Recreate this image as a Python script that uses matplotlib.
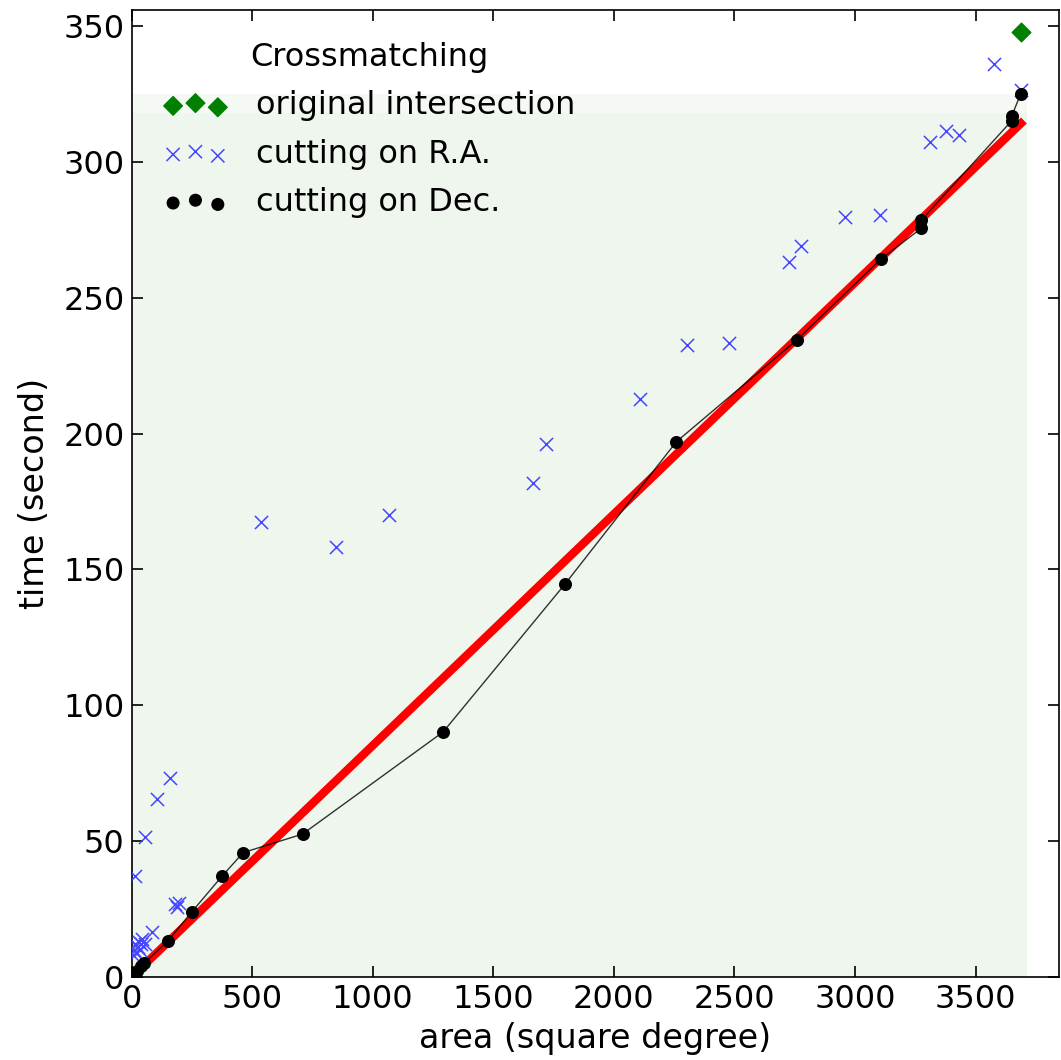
import numpy as np
import matplotlib
matplotlib.use("Agg")
import matplotlib.pyplot as plt

# ==== data ====
# original intersection
orig_area = [3686]
orig_time = [347.7]

# cutting on R.A.
ra_area = [5, 10, 15, 20, 25, 30, 35, 40, 45, 55, 14, 56, 84, 107, 160,
           180, 190, 198, 535, 846, 1067, 1663, 1720, 2107, 2303, 2477,
           2726, 2777, 2957, 3105, 3309, 3378, 3431, 3578, 3686]
ra_time = [8.0, 10.0, 12.0, 9.0, 11.0, 13.0, 10.0, 12.0, 14.0, 12.0, 37.2, 51.4, 16.7, 65.4, 73.1,
           26.9, 25.9, 27.3, 167.6, 158.4, 170.0, 181.8, 196.2, 212.8, 232.6, 233.5,
           263.3, 269.0, 279.7, 280.5, 307.4, 311.5, 309.9, 336.0, 326.5]

# cutting on Dec.
dec_area = [2, 10, 22, 38, 52, 152, 250, 374, 463, 709, 1292, 1797, 2259,
            2760, 3107, 3275, 3275, 3650, 3650, 3686]
dec_time = [0.5, 1.5, 2.2, 4.0, 5.0, 13.4, 24.0, 37.0, 45.8, 52.6, 90.2, 144.6, 197.0,
            234.6, 264.2, 275.6, 278.6, 315.2, 317.0, 324.9]

# linear fit (red)
fit_slope = 0.0852
fit_area = [0, 3700]

# light green background block
shade_x = 3711
shade_top = [325, 318]

# ==== plot ====
fig = plt.figure(figsize=(10.61, 10.60), dpi=100)
ax = fig.add_axes([0.124, 0.0783, 0.874, 0.9125])

ax.fill_between([0, shade_x], 0, shade_top[0], color="#f4f9f3", lw=0, zorder=0)
ax.fill_between([0, shade_x], 0, shade_top[1], color="#eff6ed", lw=0, zorder=0)

fx = np.array(fit_area)
ax.plot(fx, fit_slope * fx, color="red", lw=6, solid_capstyle="butt", zorder=2)

ax.plot(dec_area, dec_time, color="black", lw=1, alpha=0.8, zorder=3)
ax.scatter(dec_area, dec_time, s=70, color="black", marker="o", zorder=4,
           label="cutting on Dec.")
ax.scatter(ra_area, ra_time, s=90, color="#4646ff", marker="x", linewidths=1.1,
           zorder=3, label="cutting on R.A.")
ax.scatter(orig_area, orig_time, s=90, color="green", marker="D", zorder=4,
           label="original intersection")

ax.set_xlim(0, 3845)
ax.set_ylim(0, 356)
ax.set_xticks(np.arange(0, 3501, 500))
ax.set_yticks(np.arange(0, 351, 50))
ax.tick_params(direction="in", length=8, width=1.2, top=True, right=True,
               labelsize=23, pad=5)
for sp in ax.spines.values():
    sp.set_linewidth(1.2)

ax.set_xlabel("area (square degree)", fontsize=24, labelpad=5)
ax.set_ylabel("time (second)", fontsize=24, labelpad=9)

h, l = ax.get_legend_handles_labels()
order = [2, 1, 0]
leg = ax.legend([h[i] for i in order], [l[i] for i in order], title="Crossmatching",
                loc="upper left", bbox_to_anchor=(0.0, 1.0), frameon=False,
                fontsize=23, title_fontsize=23, scatterpoints=3,
                labelspacing=0.55, handlelength=2.0, handletextpad=0.9,
                borderaxespad=0.6)

fig.savefig("out.png", dpi=100)
